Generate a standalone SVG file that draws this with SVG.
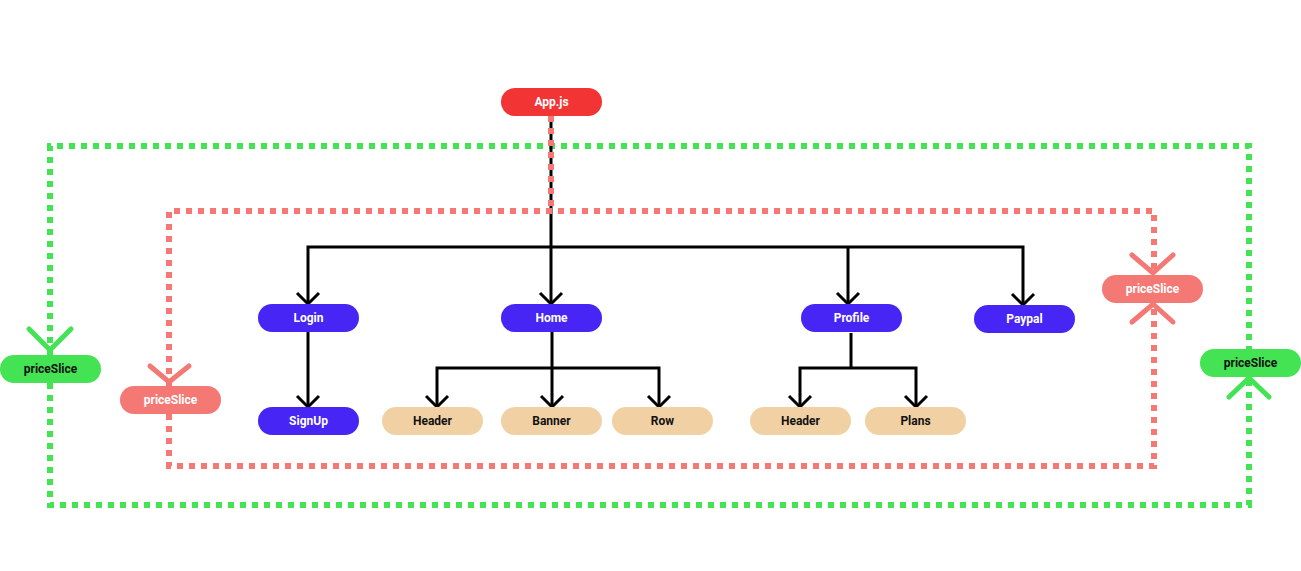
<svg xmlns="http://www.w3.org/2000/svg" width="1301" height="571" viewBox="0 0 1301 571">
<style>
.t{font-family:Roboto,"Liberation Sans",sans-serif;font-weight:bold;font-size:12px;text-anchor:middle;dominant-baseline:central}
.w{fill:#ffffff}.k{fill:#111111}
.blue{fill:#4625F5}.tan{fill:#F1D1A3}.red{fill:#F23434}.sal{fill:#F47874}.grn{fill:#44E353}
.gd{fill:none;stroke:#44E353;stroke-width:6;stroke-dasharray:6 6}
.rd{fill:none;stroke:#F47874;stroke-width:6;stroke-dasharray:6 6}
.ln{fill:none;stroke:#000;stroke-width:3}
.ar{fill:none;stroke:#000;stroke-width:3}
.gc{fill:none;stroke:#44E353;stroke-width:5;stroke-linecap:round;stroke-linejoin:miter}
.rc{fill:none;stroke:#F47874;stroke-width:5;stroke-linecap:round}
</style>
<rect width="1301" height="571" fill="#ffffff"/>
<g id="connectors">
  <!-- green boundary -->
  <path class="gd" d="M50 355 V146 H1249 V349"/>
  <path class="gd" d="M50 383 V505 H1249 V377"/>
  <!-- tree -->
  <path class="ln" d="M551 116 V304"/>
  <path class="ln" d="M308 303 V247 H1023 V304"/>
  <path class="ln" d="M848 247 V303"/>
  <path class="ln" d="M308 332 V406"/>
  <path class="ln" d="M552 332 V368 M437 406 V368 H659 V406 M552 368 V406"/>
  <path class="ln" d="M851 333 V368 M800 406 V368 H916 V406"/>
  <path class="ar" d="M297 293 L308 304 L319 293"/>
  <path class="ar" d="M540 293 L551 304 L562 293"/>
  <path class="ar" d="M837 293 L848 304 L859 293"/>
  <path class="ar" d="M1012 294 L1023 305 L1034 294"/>
  <path class="ar" d="M297 396 L308 407 L319 396"/>
  <path class="ar" d="M426 396 L437 407 L448 396"/>
  <path class="ar" d="M541 396 L552 407 L563 396"/>
  <path class="ar" d="M648 396 L659 407 L670 396"/>
  <path class="ar" d="M789 396 L800 407 L811 396"/>
  <path class="ar" d="M905 396 L916 407 L927 396"/>
  <!-- red boundary -->
  <path class="rd" d="M551 116 V210"/>
  <path class="rd" d="M169 386 V211 H1154 V275"/>
  <path class="rd" d="M169 414 V466 H1154 V303"/>
  <!-- chevrons -->
  <path class="gc" d="M29 329 L50 350 L71 329"/>
  <path class="gc" d="M1229 397 L1249 378 L1269 397"/>
  <path class="rc" d="M150 366 L169 382 L189 366"/>
  <path class="rc" d="M1132 255 L1153 273 L1173 255"/>
  <path class="rc" d="M1132 322 L1153 304 L1173 322"/>
</g>
<g id="app"><rect class="red" x="501" y="88" width="101" height="28" rx="14"/><text class="t w" x="551.5" y="102">App.js</text></g>
<g id="login"><rect class="blue" x="258" y="304" width="101" height="28" rx="14"/><text class="t w" x="308.5" y="318">Login</text></g>
<g id="signup"><rect class="blue" x="258" y="407" width="101" height="28" rx="14"/><text class="t w" x="308.5" y="421">SignUp</text></g>
<g id="home"><rect class="blue" x="501" y="304" width="101" height="28" rx="14"/><text class="t w" x="551.5" y="318">Home</text></g>
<g id="profile"><rect class="blue" x="801" y="304" width="101" height="28" rx="14"/><text class="t w" x="851.5" y="318">Profile</text></g>
<g id="paypal"><rect class="blue" x="974" y="305" width="101" height="28" rx="14"/><text class="t w" x="1024.5" y="319">Paypal</text></g>
<g id="header1"><rect class="tan" x="382" y="407" width="101" height="28" rx="14"/><text class="t k" x="432.5" y="421">Header</text></g>
<g id="banner"><rect class="tan" x="501" y="407" width="101" height="28" rx="14"/><text class="t k" x="551.5" y="421">Banner</text></g>
<g id="row"><rect class="tan" x="612" y="407" width="101" height="28" rx="14"/><text class="t k" x="662.5" y="421">Row</text></g>
<g id="header2"><rect class="tan" x="750" y="407" width="101" height="28" rx="14"/><text class="t k" x="800.5" y="421">Header</text></g>
<g id="plans"><rect class="tan" x="865" y="407" width="101" height="28" rx="14"/><text class="t k" x="915.5" y="421">Plans</text></g>
<g id="price-green-left"><rect class="grn" x="0" y="355" width="101" height="28" rx="14"/><text class="t k" x="50.5" y="369">priceSlice</text></g>
<g id="price-red-left"><rect class="sal" x="120" y="386" width="101" height="28" rx="14"/><text class="t w" x="170.5" y="400">priceSlice</text></g>
<g id="price-red-right"><rect class="sal" x="1102" y="275" width="101" height="28" rx="14"/><text class="t w" x="1152.5" y="289">priceSlice</text></g>
<g id="price-green-right"><rect class="grn" x="1200" y="349" width="101" height="28" rx="14"/><text class="t k" x="1250.5" y="363">priceSlice</text></g>
</svg>
